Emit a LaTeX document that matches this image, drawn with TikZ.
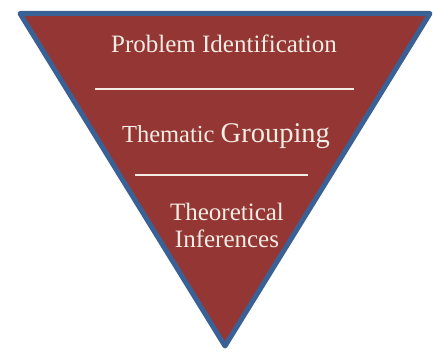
\documentclass[tikz,border=0pt]{standalone}
\usepackage{fontspec}
\setmainfont{Liberation Serif}
\usetikzlibrary{positioning}
\definecolor{brick}{HTML}{943634}
\definecolor{steel}{HTML}{3A6195}
\definecolor{cream}{HTML}{F4EDE4}

\begin{document}
\begin{tikzpicture}[x=1pt,y=-1pt,
    label/.style={text=cream,anchor=base,align=center,inner sep=0pt}]
  \useasboundingbox (0,0) rectangle (433,352);
  % funnel outline
  \coordinate (tl) at (20,13.5);
  \coordinate (tr) at (430,13.5);
  \coordinate (tip) at (225,346);
  \draw[steel,fill=brick,line width=5pt,line join=round] (tl) -- (tr) -- (tip) -- cycle;
  % stages
  \node[label,font=\fontsize{25}{28}\selectfont] (ident) at (224,53) {Problem Identification};
  \node[label,font=\fontsize{24.5}{28}\selectfont] (group) at (226,143) {Thematic \fontsize{28.5}{32}\selectfont Grouping};
  \node[label,font=\fontsize{25}{28}\selectfont] (theo) at (227,221) {Theoretical};
  \node[label,font=\fontsize{25}{28}\selectfont] (infer) at (227,248) {Inferences};
  % separators
  \foreach \a/\b/\y in {95/354/89,135/308/175} {
    \draw[cream,line width=2pt] (\a,\y) -- (\b,\y);
  }
\end{tikzpicture}
\end{document}
